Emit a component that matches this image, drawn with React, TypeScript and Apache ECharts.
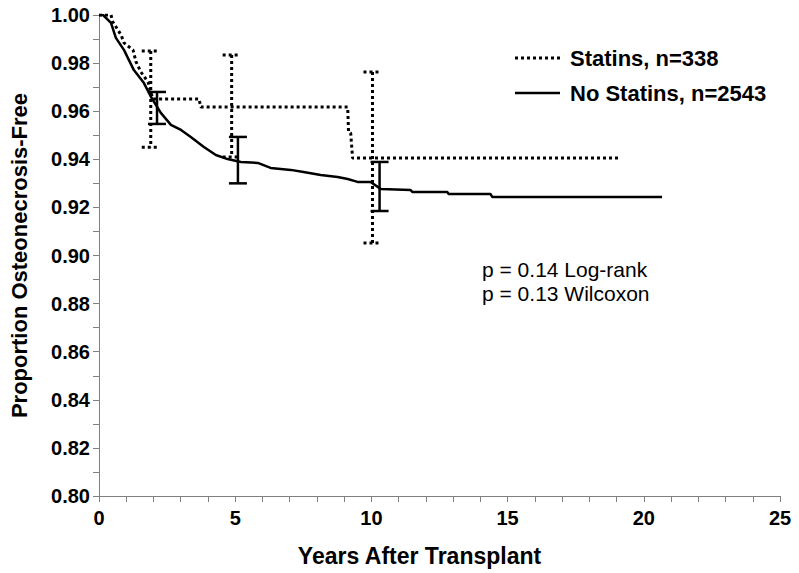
import React, { useEffect, useRef } from "react";
import * as echarts from "echarts";

const FONT = "'Liberation Sans', Arial, sans-serif";

const seriesNames = ["Statins, n=338", "No Statins, n=2543"];

// Kaplan-Meier curves [years, proportion]
const statinsCurve: [number, number][] = [
  [0, 1.0], [0.44, 1.0], [0.51, 0.9971], [0.81, 0.9917], [0.92, 0.9884],
  [1.25, 0.9854], [1.36, 0.9805], [1.54, 0.9763], [1.8, 0.9721], [1.91, 0.9676],
  [1.98, 0.9651], [3.67, 0.9651], [3.74, 0.9617], [9.13, 0.9617], [9.16, 0.9513],
  [9.24, 0.9509], [9.31, 0.9405], [19.06, 0.9405],
];

const noStatinsCurve: [number, number][] = [
  [0, 1.0], [0.15, 1.0], [0.44, 0.9967], [0.62, 0.9905], [0.92, 0.9854],
  [1.28, 0.9771], [1.65, 0.9717], [1.91, 0.9659], [2.27, 0.9593], [2.64, 0.9543],
  [3.01, 0.9522], [3.37, 0.9493], [3.85, 0.9451], [4.29, 0.9418], [4.72, 0.9401],
  [5.21, 0.9389], [5.83, 0.9385], [6.3, 0.9364], [7.04, 0.9356], [7.51, 0.9347],
  [8.14, 0.9335], [8.76, 0.9326], [9.13, 0.9318], [9.49, 0.9306], [9.97, 0.9306],
  [10.34, 0.9277], [11.44, 0.9272], [11.51, 0.9264], [12.79, 0.9264], [12.83, 0.9256],
  [14.37, 0.9256], [14.44, 0.9243], [20.67, 0.9243],
];

// Confidence interval bars [years, lower, upper]
const statinsCI: [number, number, number][] = [
  [1.9, 0.945, 0.985],
  [4.87, 0.941, 0.9834],
  [10.04, 0.9052, 0.9763],
];

const noStatinsCI: [number, number, number][] = [
  [2.13, 0.9547, 0.968],
  [5.1, 0.93, 0.9493],
  [10.3, 0.9185, 0.9389],
];

const pValueTexts = ["p = 0.14 Log-rank", "p = 0.13 Wilcoxon"];

const xAxisTitle = "Years After Transplant";
const yAxisTitle = "Proportion Osteonecrosis-Free";

const DOT = [3, 3];

function makeErrorBar(dash: number[] | null) {
  return (params: any, api: any) => {
    const x = api.value(0);
    const lo = api.value(1);
    const hi = api.value(2);
    const pTop = api.coord([x, hi]);
    const pBot = api.coord([x, lo]);
    const hw = 9;
    const style: any = { stroke: "#000", lineWidth: dash ? 3 : 2.5, fill: "none" };
    if (dash) style.lineDash = dash;
    return {
      type: "group",
      children: [
        { type: "line", shape: { x1: pTop[0], y1: pTop[1], x2: pBot[0], y2: pBot[1] }, style },
        { type: "line", shape: { x1: pTop[0] - hw, y1: pTop[1], x2: pTop[0] + hw, y2: pTop[1] }, style },
        { type: "line", shape: { x1: pBot[0] - hw, y1: pBot[1], x2: pBot[0] + hw, y2: pBot[1] }, style },
      ],
    };
  };
}

export default function App() {
  const ref = useRef<HTMLDivElement>(null);

  useEffect(() => {
    if (!ref.current) return;
    const chart = echarts.init(ref.current, null, { renderer: "svg" });
    const axisLineColor = "#808080";
    const legendRows = [58, 93];
    chart.setOption({
      animation: false,
      backgroundColor: "#fff",
      grid: { left: 98, top: 15, right: 19, bottom: 77, containLabel: false },
      xAxis: {
        type: "value",
        min: 0,
        max: 25,
        interval: 5,
        name: xAxisTitle,
        nameLocation: "middle",
        nameGap: 48,
        nameTextStyle: {
          fontSize: 23,
          fontWeight: "bold",
          fontFamily: FONT,
          color: "#000",
          padding: [0, 40, 0, 0],
        },
        axisLine: { show: true, lineStyle: { color: axisLineColor, width: 1 } },
        axisTick: { show: true, length: 6, lineStyle: { color: axisLineColor } },
        minorTick: { show: true, splitNumber: 5, length: 6, lineStyle: { color: axisLineColor } },
        splitLine: { show: false },
        axisLabel: { fontSize: 20, fontWeight: "bold", fontFamily: FONT, color: "#000", margin: 12 },
      },
      yAxis: {
        type: "value",
        min: 0.8,
        max: 1.0,
        interval: 0.02,
        name: yAxisTitle,
        nameLocation: "middle",
        nameGap: 69,
        nameTextStyle: { fontSize: 22, fontWeight: "bold", fontFamily: FONT, color: "#000" },
        axisLine: { show: true, lineStyle: { color: axisLineColor, width: 1 } },
        axisTick: { show: true, length: 6, lineStyle: { color: axisLineColor } },
        minorTick: { show: true, splitNumber: 2, length: 6, lineStyle: { color: axisLineColor } },
        splitLine: { show: false },
        axisLabel: {
          fontSize: 20,
          fontWeight: "bold",
          fontFamily: FONT,
          color: "#000",
          margin: 9,
          formatter: (v: number) => v.toFixed(2),
        },
      },
      graphic: [
        {
          type: "line",
          shape: { x1: 515, y1: legendRows[0], x2: 560, y2: legendRows[0] },
          style: { stroke: "#000", lineWidth: 3, lineDash: DOT },
        },
        {
          type: "text",
          left: 570,
          top: legendRows[0] - 11,
          style: { text: seriesNames[0], font: `bold 22px ${FONT}`, fill: "#000" },
        },
        {
          type: "line",
          shape: { x1: 515, y1: legendRows[1], x2: 560, y2: legendRows[1] },
          style: { stroke: "#000", lineWidth: 2.5 },
        },
        {
          type: "text",
          left: 570,
          top: legendRows[1] - 11,
          style: { text: seriesNames[1], font: `bold 22px ${FONT}`, fill: "#000" },
        },
        {
          type: "text",
          left: 482,
          top: 259,
          style: { text: pValueTexts[0], font: `21px ${FONT}`, fill: "#000" },
        },
        {
          type: "text",
          left: 482,
          top: 283,
          style: { text: pValueTexts[1], font: `21px ${FONT}`, fill: "#000" },
        },
      ],
      series: [
        {
          name: seriesNames[0],
          type: "line",
          data: statinsCurve,
          symbol: "none",
          lineStyle: { color: "#000", width: 3, type: DOT },
          itemStyle: { color: "#000" },
          z: 3,
        },
        {
          name: seriesNames[1],
          type: "line",
          data: noStatinsCurve,
          symbol: "none",
          lineStyle: { color: "#000", width: 2.5, type: "solid" },
          itemStyle: { color: "#000" },
          z: 4,
        },
        {
          name: "statinsCI",
          type: "custom",
          data: statinsCI,
          renderItem: makeErrorBar(DOT),
          encode: { x: 0, y: [1, 2] },
          z: 3,
        },
        {
          name: "noStatinsCI",
          type: "custom",
          data: noStatinsCI,
          renderItem: makeErrorBar(null),
          encode: { x: 0, y: [1, 2] },
          z: 4,
        },
      ],
    });
    return () => chart.dispose();
  }, []);

  return <div ref={ref} style={{ width: 799, height: 573, position: "absolute", left: 0, top: 0 }} />;
}
